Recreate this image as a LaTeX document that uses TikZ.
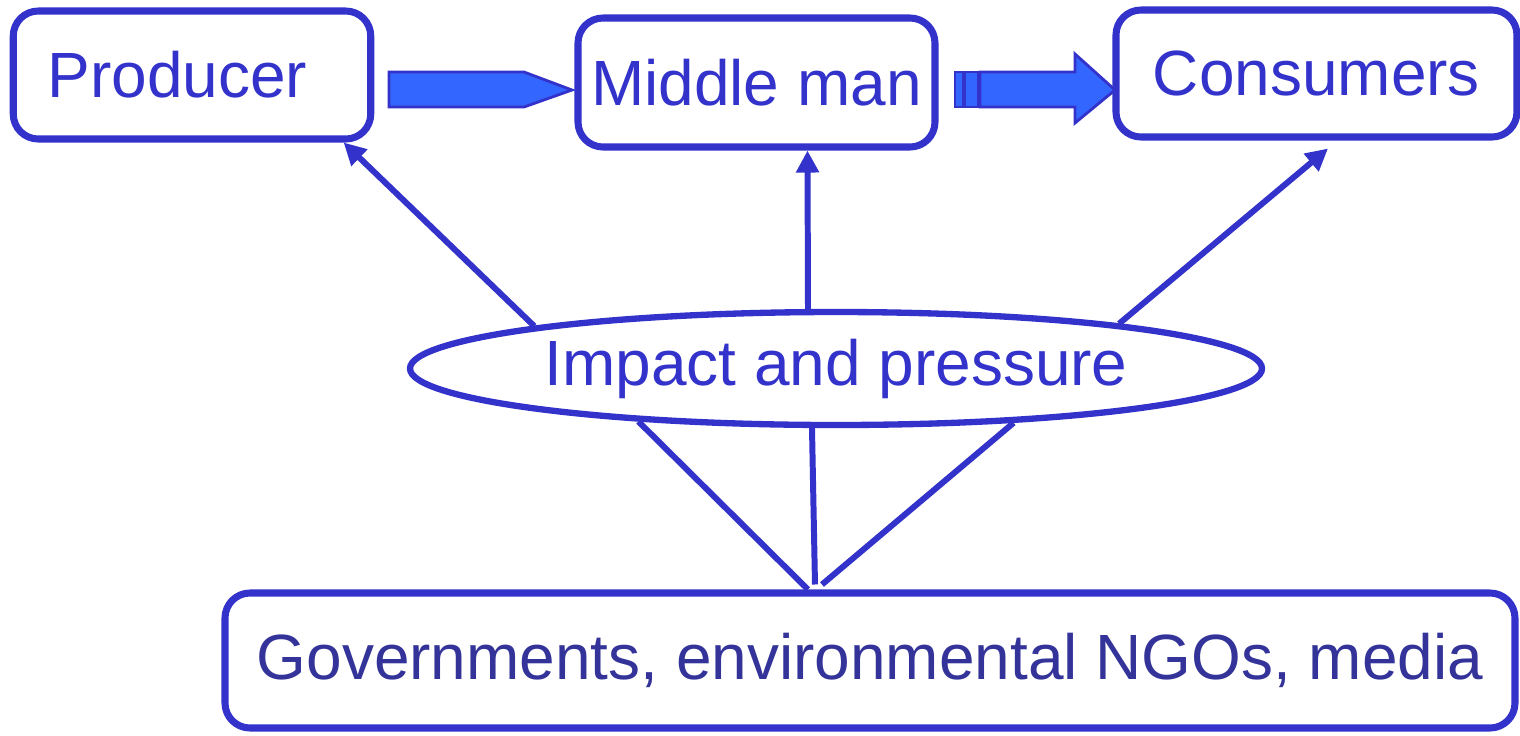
\documentclass[tikz,border=0pt]{standalone}
\usepackage{fontspec}
\setmainfont{Liberation Sans}
\usetikzlibrary{arrows.meta,shapes.geometric}
\definecolor{boxblue}{HTML}{3333CC}
\definecolor{fillblue}{HTML}{3366FF}
\definecolor{textnavy}{HTML}{333399}

\begin{document}
\begin{tikzpicture}[>={Triangle[length=0.22cm,width=0.22cm]},
    box/.style={draw=boxblue,line width=2pt,rounded corners=0.25cm,text=boxblue,
      font=\fontsize{18.2}{22}\selectfont,minimum height=1.28cm},
    link/.style={boxblue,line width=1.7pt},
    flow/.style={draw=boxblue,fill=fillblue,line width=0.8pt}]
  \useasboundingbox (0,0) rectangle (15.2,-7.35);
  \node[box,text width=2.885cm,inner xsep=0.345cm,align=left] (prod) at (1.92,-0.75) {Producer};
  \node[box,minimum width=3.57cm,minimum height=1.29cm] (mid) at (7.565,-0.825) {Middle man};
  \node[box,minimum width=4.01cm,minimum height=1.27cm] (cons) at (13.165,-0.735) {Consumers};
  \node[box,ellipse,rounded corners=0pt,line width=1.8pt,inner sep=0pt,
        minimum width=8.52cm,minimum height=1.13cm] (imp) at (8.36,-3.685) {Impact and pressure};
  \node[box,text=textnavy,minimum width=12.9cm,minimum height=1.35cm] (gov) at (8.70,-6.605)
    {Governments, environmental NGOs, media};
  % block arrows along the chain
  \draw[flow] (3.89,-0.72) -- (5.24,-0.72) -- (5.72,-0.90) -- (5.24,-1.07) -- (3.89,-1.07) -- cycle;
  \draw[flow] (9.55,-0.72) rectangle (9.63,-1.07);
  \draw[flow] (9.65,-0.72) rectangle (9.78,-1.07);
  \draw[flow] (9.80,-0.72) -- (10.75,-0.72) -- (10.75,-0.54) -- (11.15,-0.90)
    -- (10.75,-1.23) -- (10.75,-1.07) -- (9.80,-1.07) -- cycle;
  % pressure on the chain
  \draw[link,->] (imp.172) -- (prod.-24);
  \draw[link,->] ([xshift=-0.28cm]imp.north) -- ([xshift=0.51cm]mid.south);
  \draw[link,->] (imp.9) -- ([shift={(0.115,-0.08)}]cons.south);
  \draw[link] ([xshift=-0.62cm]gov.north) -- (imp.195);
  \draw[link] ([shift={(-0.55,0.05)}]gov.north) -- ([xshift=-0.24cm]imp.south);
  \draw[link] ([shift={(-0.48,0.05)}]gov.north) -- (imp.-17);
\end{tikzpicture}
\end{document}
